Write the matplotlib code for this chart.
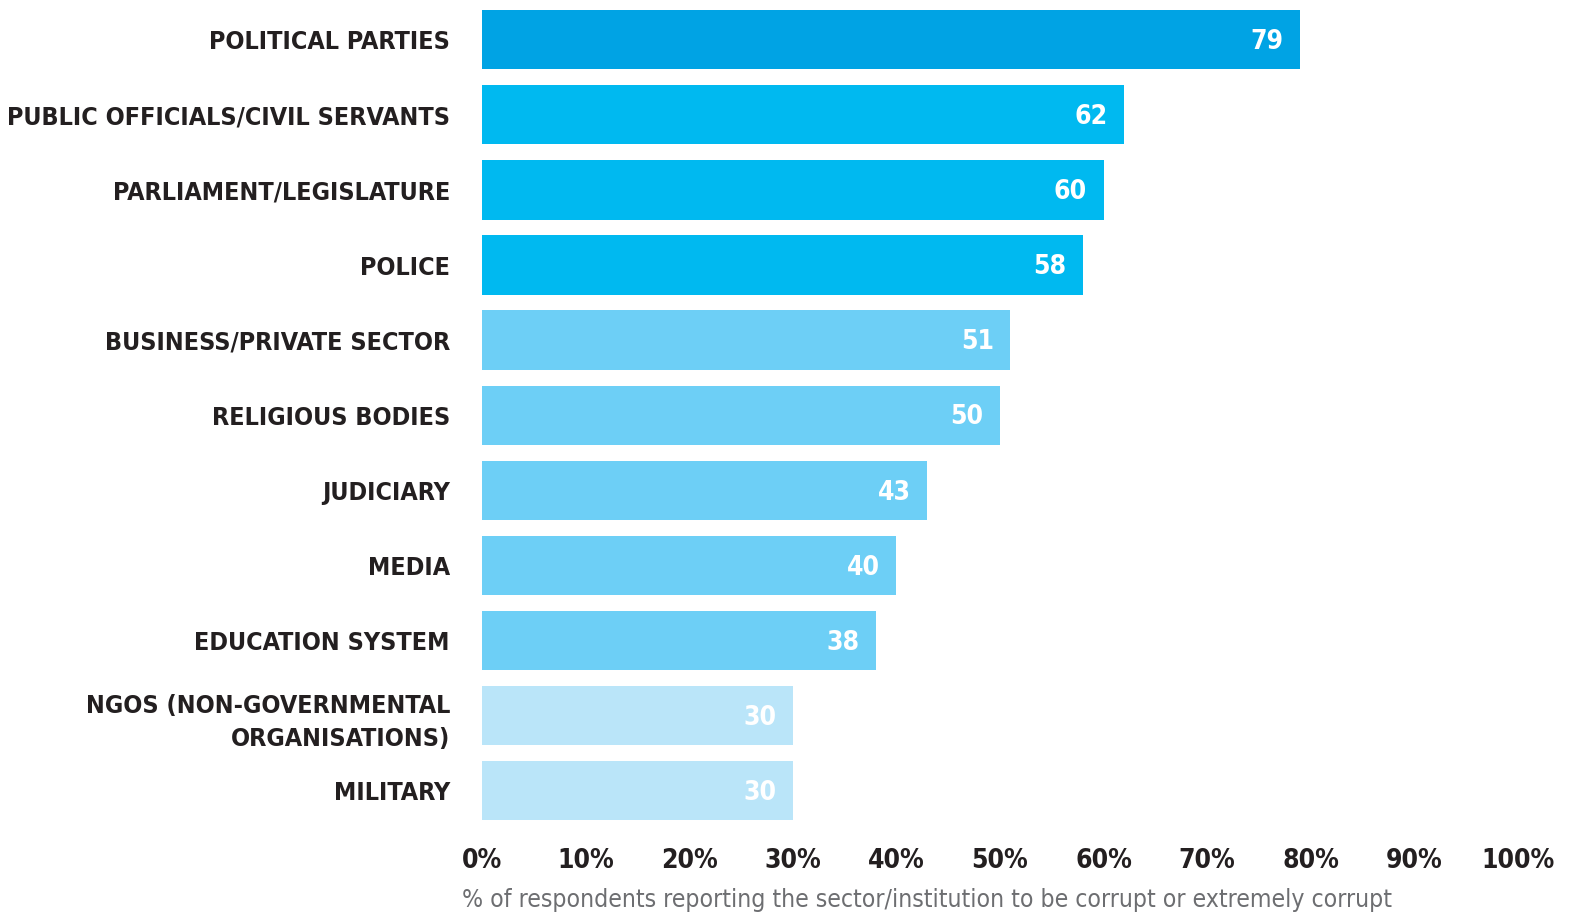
import matplotlib
matplotlib.use('Agg')
import matplotlib.pyplot as plt
import numpy as np

# Data
sectors = ['POLITICAL PARTIES', 'PUBLIC OFFICIALS/CIVIL SERVANTS', 'PARLIAMENT/LEGISLATURE',
           'POLICE', 'BUSINESS/PRIVATE SECTOR', 'RELIGIOUS BODIES', 'JUDICIARY', 'MEDIA',
           'EDUCATION SYSTEM', 'NGOS (NON-GOVERNMENTAL\nORGANISATIONS)', 'MILITARY']
values = [79, 62, 60, 58, 51, 50, 43, 40, 38, 30, 30]
ticks = [0, 10, 20, 30, 40, 50, 60, 70, 80, 90, 100]

colors = ['#00a3e4'] + ['#00b9f0'] * 3 + ['#6dcff6'] * 5 + ['#bae5f9'] * 2

dark = '#231f20'
cond = dict(family='DejaVu Sans', stretch='condensed')

fig = plt.figure(figsize=(15.77, 9.15), dpi=100)
ax = fig.add_axes([0.3056, 0.0947, 0.657, 0.903])

y = np.arange(len(sectors))
ax.barh(y, values, height=0.79, color=colors, edgecolor='none')
ax.set_ylim(len(sectors) - 0.5, -0.5)
ax.set_xlim(0, 100)

for yi, v in zip(y, values):
    ax.text(v - 1.6, yi + 0.03, str(v), ha='right', va='center', color='white',
            fontsize=19, fontweight='bold', **cond)

ax.set_yticks(y)
ax.set_yticklabels(sectors, fontsize=18, color=dark, ha='right',
                   linespacing=1.45, fontweight='bold', **cond)
ax.tick_params(axis='y', length=0, pad=23)

ax.set_xticks(ticks)
ax.set_xticklabels([f'{t}%' for t in ticks], fontsize=19,
                   fontweight='bold', color=dark, **cond)
ax.tick_params(axis='x', length=0, pad=14)

fig.text(0.293, 0.009, '% of respondents reporting the sector/institution to be corrupt or extremely corrupt',
         fontsize=17.7, color='#6d6e71', ha='left', va='baseline', **cond)

for s in ax.spines.values():
    s.set_visible(False)

fig.savefig('out.png', dpi=100)
